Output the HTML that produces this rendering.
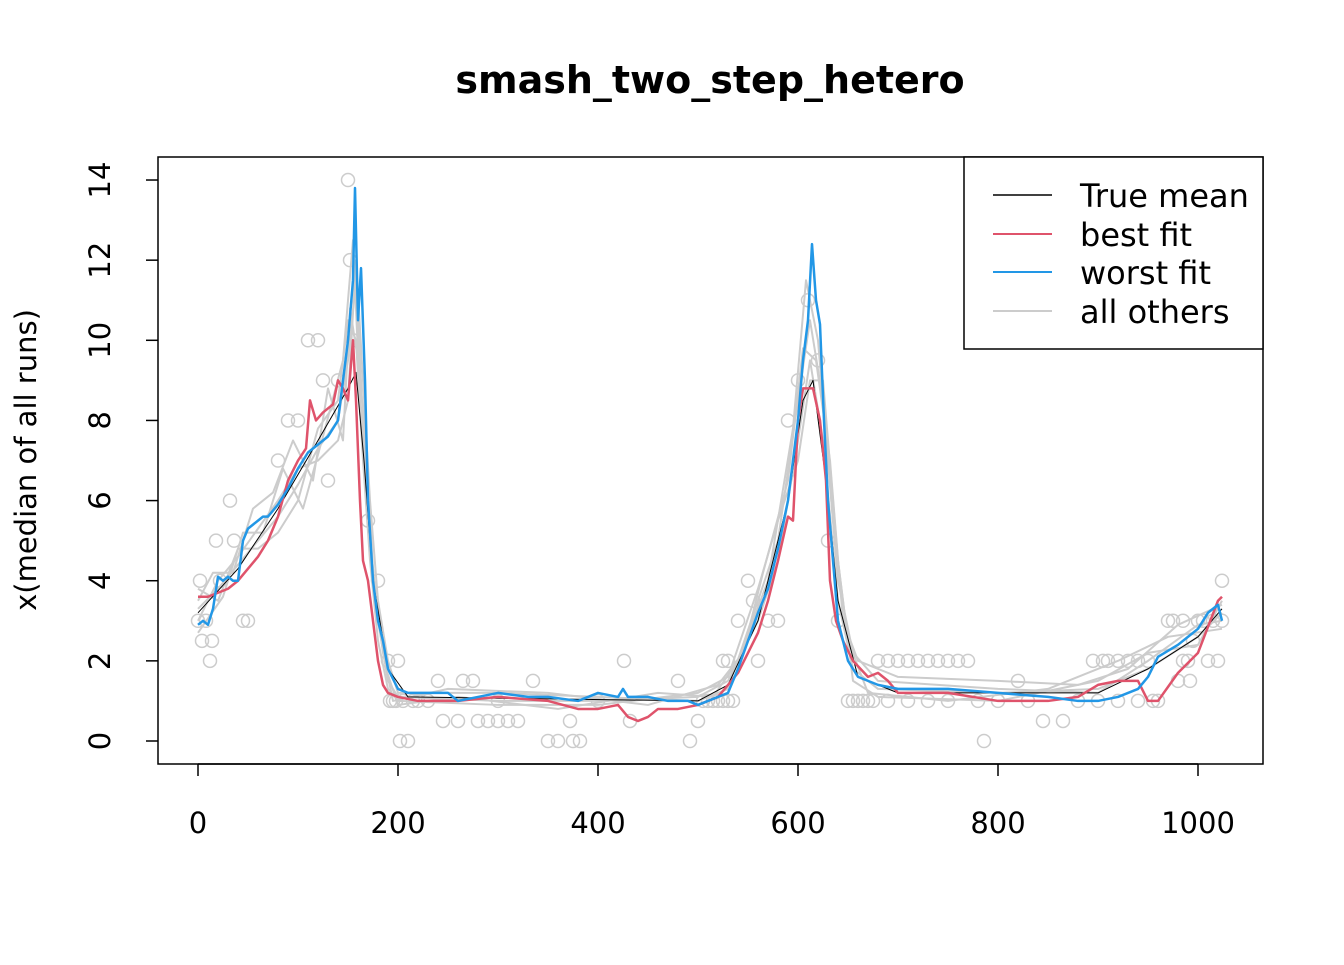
<!DOCTYPE html>
<html><head><meta charset="utf-8"><style>
body{margin:0;background:#fff}
svg text{font-family:"DejaVu Sans","Liberation Sans",sans-serif}
</style></head><body>
<svg id="c" width="1344" height="960" xmlns="http://www.w3.org/2000/svg">
<rect width="1344" height="960" fill="#fff"/>
<text x="710" y="93" text-anchor="middle" font-size="38" font-weight="bold">smash_two_step_hetero</text>
<g id="plot"></g>
<rect x="158" y="157" width="1105" height="607" fill="none" stroke="#000" stroke-width="1.5"/>
<text transform="translate(36,460) rotate(-90)" text-anchor="middle" font-size="29">x(median of all runs)</text>
<g>
<rect x="964" y="157" width="299" height="192" fill="#fff" stroke="#000" stroke-width="1.5"/>
<line x1="993" x2="1052" y1="195" y2="195" stroke="#000" stroke-width="1.5"/>
<text x="1080" y="207" font-size="32">True mean</text>
<line x1="993" x2="1052" y1="234" y2="234" stroke="#DF536B" stroke-width="2"/>
<text x="1080" y="246" font-size="32">best fit</text>
<line x1="993" x2="1052" y1="272" y2="272" stroke="#2297E6" stroke-width="2"/>
<text x="1080" y="284" font-size="32">worst fit</text>
<line x1="993" x2="1052" y1="311" y2="311" stroke="#ccc" stroke-width="2"/>
<text x="1080" y="323" font-size="32">all others</text>
</g>
</svg>
<script>
const xTicks=[0,200,400,600,800,1000];
const yTicks=[0,2,4,6,8,10,12,14];
const worst=[[0,2.9],[5,3.0],[10,2.9],[15,3.3],[20,4.1],[25,4.0],[30,4.1],[35,4.0],[40,4.0],[45,5.0],[50,5.3],[55,5.4],[60,5.5],[65,5.6],[70,5.6],[80,5.9],[90,6.3],[100,6.8],[110,7.2],[120,7.4],[130,7.6],[140,8.0],[145,9.0],[150,10.0],[155,11.5],[157,13.8],[160,10.5],[163,11.8],[167,9],[170,6],[175,4],[180,3],[185,2.5],[190,1.8],[200,1.3],[210,1.2],[230,1.2],[250,1.2],[260,1.0],[280,1.1],[300,1.2],[330,1.1],[350,1.1],[380,1.0],[400,1.2],[420,1.1],[425,1.3],[430,1.1],[450,1.1],[470,1.0],[490,1.0],[500,0.9],[510,1.0],[530,1.2],[540,1.8],[550,2.5],[560,3.2],[570,3.8],[580,4.8],[590,6.0],[600,8.0],[605,9.5],[610,10.5],[614,12.4],[618,11],[622,10.4],[626,8],[630,6],[635,4.5],[640,3],[645,2.5],[650,2.0],[660,1.6],[680,1.4],[700,1.3],[750,1.3],[800,1.2],[850,1.1],[880,1.0],[900,1.0],[920,1.1],[940,1.3],[950,1.6],[960,2.1],[980,2.4],[1000,2.8],[1010,3.2],[1020,3.4],[1024,3.0]];
const best=[[0,3.6],[10,3.6],[20,3.7],[30,3.8],[40,4.0],[50,4.3],[60,4.6],[70,5.0],[80,5.6],[90,6.5],[100,7.0],[108,7.3],[112,8.5],[118,8.0],[125,8.2],[135,8.4],[140,9.0],[145,8.8],[150,8.5],[155,10.0],[158,8.5],[162,6.0],[165,4.5],[170,4.0],[175,3.0],[180,2.0],[185,1.4],[190,1.2],[200,1.1],[220,1.0],[240,1.0],[260,1.0],[300,1.1],[350,1.0],[380,0.8],[400,0.8],[420,0.9],[430,0.6],[440,0.5],[450,0.6],[460,0.8],[480,0.8],[500,0.9],[520,1.1],[540,1.7],[560,2.7],[570,3.5],[580,4.5],[590,5.6],[595,5.5],[600,8.0],[605,8.8],[615,8.8],[622,8.0],[628,6.5],[632,4],[638,3],[645,2.5],[655,2.0],[670,1.6],[680,1.7],[690,1.5],[700,1.2],[750,1.2],[800,1.0],[850,1.0],[880,1.1],[900,1.4],[920,1.5],[940,1.5],[950,1.0],[960,1.0],[980,1.7],[1000,2.2],[1020,3.5],[1024,3.6]];
const other1=[[0,3.3],[20,3.8],[40,4.4],[60,5.0],[80,5.6],[100,6.4],[120,7.3],[140,8.0],[150,9.5],[158,11.5],[165,8],[172,5],[180,3],[190,1.5],[200,1.1],[300,1.0],[400,1.0],[500,1.1],[530,1.5],[560,3],[580,4.5],[600,7.5],[612,9.5],[625,7.5],[640,3.5],[655,1.8],[680,1.3],[800,1.2],[900,1.3],[950,1.8],[1000,2.6],[1024,3.2]];
const other2=[[0,3.0],[20,4.0],[40,4.6],[60,5.3],[80,6.0],[100,6.8],[120,7.0],[140,7.5],[150,8.5],[158,12],[165,9],[172,6],[180,3.5],[190,2],[200,1.2],[300,1.2],[400,1.1],[500,1.0],[530,1.3],[560,3.5],[580,5],[600,8.5],[612,10.5],[625,8.5],[640,4],[655,2.2],[680,1.5],[800,1.3],[900,1.2],[950,2.0],[1000,2.9],[1024,3.0]];
const other3=[[0,3.8],[20,3.5],[40,4.8],[60,4.8],[80,5.2],[100,6.0],[120,7.8],[140,8.5],[150,10.5],[158,10],[165,7],[172,4.5],[180,2.5],[190,1.3],[200,1.0],[300,0.9],[400,0.9],[500,1.2],[530,1.6],[560,3.8],[580,5.5],[600,7.0],[612,9.0],[625,9.0],[640,4.5],[655,1.5],[680,1.1],[800,1.0],[900,1.5],[950,2.2],[1000,2.4],[1024,3.5]];
const other4=[[0,3.5],[15,4.2],[35,4.2],[55,5.8],[75,6.2],[95,7.5],[115,6.5],[130,8.8],[145,7.5],[152,10.8],[160,9.5],[168,7.5],[175,4.2],[185,2.2],[195,1.0],[250,1.3],[350,1.2],[450,0.9],[520,1.4],[545,2.2],[565,4.2],[590,6.5],[605,9.8],[618,9.5],[632,7],[645,3],[660,2.0],[700,1.6],[800,1.5],[880,1.4],[930,1.8],[980,2.9],[1024,3.4]];
const other5=[[0,2.7],[25,3.6],[45,5.2],[65,5.2],[85,6.8],[105,5.8],[125,7.6],[145,9.5],[155,12.5],[162,8.5],[170,5.5],[178,3.6],[188,1.8],[200,0.9],[260,1.1],[360,0.8],[460,1.2],[515,1.1],[540,2.0],[570,4.0],[595,7.8],[608,11.5],[620,10],[635,5.5],[650,2.5],[670,1.2],[750,1.0],[850,1.3],[920,2.0],[970,2.6],[1024,2.8]];
const truth=[[0,3.2],[40,4.3],[80,5.8],[120,7.5],[150,8.8],[158,9.2],[166,7],[175,4],[190,1.8],[210,1.1],[500,1.0],[530,1.4],[560,3],[590,6],[605,8.5],[615,9],[628,6.5],[640,3.5],[660,1.6],[700,1.2],[900,1.2],[950,1.8],[1000,2.6],[1024,3.3]];
const pts=[[0,3],[2,4],[4,2.5],[8,3],[12,2],[14,2.5],[18,5],[22,4],[32,6],[36,5],[45,3],[50,3],[80,7],[90,8],[100,8],[110,10],[120,10],[125,9],[130,6.5],[140,9],[150,14],[152,12],[155,10],[170,5.5],[180,4],[190,2],[195,1],[200,2],[202,0],[210,0],[230,1],[240,1.5],[245,0.5],[260,0.5],[265,1.5],[275,1.5],[280,0.5],[290,0.5],[300,0.5],[310,0.5],[320,0.5],[335,1.5],[350,0],[360,0],[372,0.5],[375,0],[382,0],[300,1],[400,1],[426,2],[432,0.5],[480,1.5],[492,0],[500,0.5],[520,1],[525,2],[530,2],[540,3],[550,4],[555,3.5],[560,2],[570,3],[580,3],[590,8],[600,9],[610,11],[620,9.5],[630,5],[640,3],[650,1],[660,1],[680,2],[700,2],[720,2],[740,2],[760,2],[770,2],[786,0],[800,1],[820,1.5],[845,0.5],[865,0.5],[895,2],[910,2],[930,2],[950,2],[960,1],[970,3],[990,2],[1000,3],[1010,2],[1024,4],[1020,2],[1024,3],
[192,1],[198,1],[205,1],[215,1],[220,1],[505,1],[510,1],[515,1],[525,1],[530,1],[535,1],[655,1],[665,1],[670,1],[675,1],[690,1],[710,1],[730,1],[750,1],[780,1],[830,1],[880,1],[900,1],[920,1],[940,1],[955,1],[690,2],[710,2],[730,2],[750,2],[905,2],[920,2],[940,2],[975,3],[985,3],[995,2.5],[1005,3],[980,1.5],[992,1.5],[985,2],[1015,3]];
const X=v=>198+v*1.0, Y=v=>741-v*40.07;
const NS="http://www.w3.org/2000/svg";
const plot=document.getElementById('plot');
const svg=document.getElementById('c');
function mk(t,a){const e=document.createElementNS(NS,t);for(const k in a)e.setAttribute(k,a[k]);return e;}
xTicks.forEach(t=>{
 const l=mk('line',{x1:X(t),x2:X(t),y1:764,y2:776,stroke:'#000','stroke-width':1.5});
 
 
 svg.appendChild(l);
 const tx=mk('text',{x:X(t),y:833,'text-anchor':'middle','font-size':29});
 tx.textContent=t;
 
 
 svg.appendChild(tx);
});
const xa=mk('line',{x1:X(0),x2:X(1000),y1:764,y2:764,stroke:'#000','stroke-width':1.5});svg.appendChild(xa);
yTicks.forEach(t=>{
 const l=mk('line',{x1:146,x2:158,y1:Y(t),y2:Y(t),stroke:'#000','stroke-width':1.5});
 
 
 svg.appendChild(l);
 const tx=mk('text',{transform:`translate(110,${Y(t)}) rotate(-90)`,'text-anchor':'middle','font-size':29});
 tx.textContent=t;
 
 
 svg.appendChild(tx);
});
function line(d,c,w,name){
 const p=mk('polyline',{points:d.map(q=>X(q[0])+','+Y(q[1])).join(' '),fill:'none',stroke:c,'stroke-width':w,'stroke-linejoin':'round'});
 
 
 plot.appendChild(p);
}
pts.forEach(q=>{
 const c=mk('circle',{cx:X(q[0]),cy:Y(q[1]),r:6.5,fill:'none',stroke:'#ccc','stroke-width':1.5});
 
 
 plot.appendChild(c);
});
line(other1,'#ccc',2,'other-run-line');
line(other2,'#ccc',2,'other-run-line');
line(other3,'#ccc',2,'other-run-line');
line(other4,'#ccc',2,'other-run-line');
line(other5,'#ccc',2,'other-run-line');
line(truth,'#000',1,'true-mean-line');
line(best,'#DF536B',2.5,'best-fit-line');
line(worst,'#2297E6',2.5,'worst-fit-line');
</script>
</body></html>
